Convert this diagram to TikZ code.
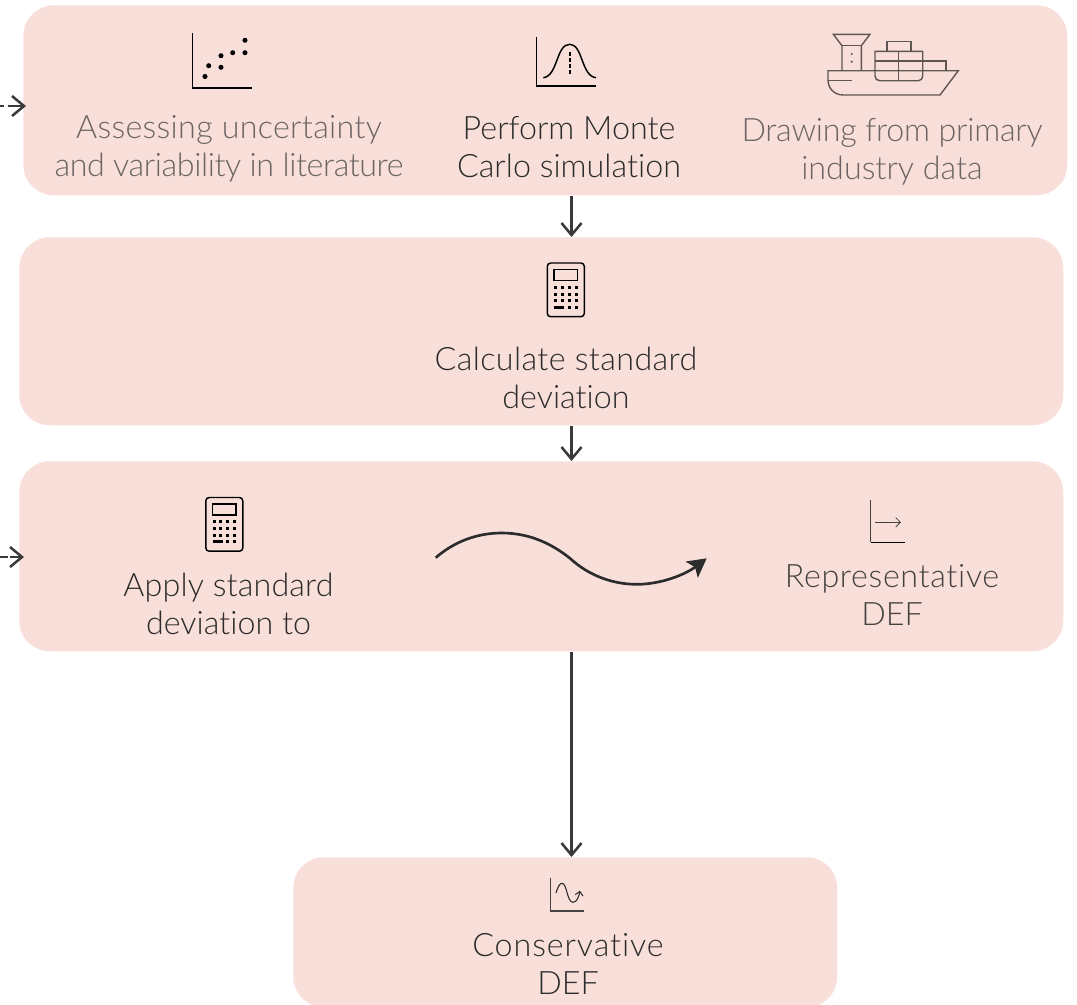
\documentclass[tikz,border=0pt]{standalone}
\usepackage{fontspec}
\setmainfont[Ligatures=NoCommon]{Lato Light}
\usetikzlibrary{arrows.meta}
\definecolor{boxfill}{HTML}{F9DFDA}
\definecolor{ink}{HTML}{2C2C2C}
\definecolor{arrowink}{HTML}{3A3A3A}
\definecolor{faded}{HTML}{6C6563}
\definecolor{midink}{HTML}{444241}
\definecolor{shipink}{HTML}{5F5654}
\newcommand{\spc}[2]{{\addfontfeature{LetterSpace=#1}#2}}
\tikzset{
  x=0.75pt,y=-0.75pt,
  stagebox/.style={fill=boxfill,rounded corners=23pt,inner sep=0pt,anchor=north west},
  flow/.style={draw=arrowink,line width=1.9pt,-{Straight Barb[length=9pt,width=15pt,line width=1.9pt]}},
  label/.style={align=center,inner sep=0pt,font=\fontsize{24.2}{28.5}\selectfont},
  icon/.style={line width=1.1pt,draw=black},
  pics/calc/.style={code={
    \draw[icon,rounded corners=2.5pt] (0,0) rectangle (37,53.7);
    \draw[icon] (6.7,6.3) rectangle (30.4,17.3);
    \foreach \kx in {8.4,15,22,29}
      \foreach \ky in {24.3,31.3,37.7}
        \fill (\kx-1.4,\ky-1.4) rectangle (\kx+1.4,\ky+1.4);
    \fill (6.7,42.7) rectangle (17,45.5);
    \foreach \kx in {22,29} \fill (\kx-1.4,42.7) rectangle (\kx+1.4,45.5);
  }}
}
\begin{document}
\begin{tikzpicture}
\clip (0,0) rectangle (1077,1004);
% stages
\node[stagebox,minimum width=1044*0.75pt,minimum height=190*0.75pt] (survey) at (23,5) {};
\node[stagebox,minimum width=1044*0.75pt,minimum height=188*0.75pt] (calcsd) at (19,237) {};
\node[stagebox,minimum width=1044*0.75pt,minimum height=190*0.75pt] (apply) at (19,461) {};
\node[stagebox,minimum width=544*0.75pt,minimum height=150*0.75pt] (cons) at (293,857) {};
% connector references
\coordinate (spine) at (571.5,0);
\coordinate (inA) at (-14,106);
\coordinate (inAend) at (26,106);
\coordinate (inB) at (-10,557);
\coordinate (inBend) at (24,557);
% connectors
\draw[flow] (survey.south -| spine) -- (calcsd.north -| spine);
\draw[flow] (calcsd.south -| spine) -- (apply.north -| spine);
\draw[flow] (apply.south -| spine) -- (cons.north -| spine);
\draw[flow,dash pattern=on 13.5pt off 3pt] (inA) -- (inAend);
\draw[flow,dash pattern=on 13.5pt off 1.5pt] (inB) -- (inBend);
% labels
\node[label,text=faded] (t1) at (229,148.5) {\spc{0.9}{Assessing uncertainty}\\\spc{-1.3}{and variability in literature}};
\node[label,text=ink] (t2) at (569,147) {Perform Monte\\Carlo simulation};
\node[label,text=faded] (t3) at (892,152) {\spc{-0.8}{Drawing from primary}\\industry data};
\node[label,text=ink] (t4) at (566,378) {\spc{1.2}{Calculate standard}\\deviation};
\node[label,text=ink] (t5) at (228.5,604) {\spc{0.4}{Apply standard}\\deviation to};
\node[label,text=midink] (t6) at (892,595) {\spc{2}{Representative}\\DEF};
\node[label,text=ink] (t7) at (568,964) {\spc{2.8}{Conservative}\\DEF};
% scatter icon
\draw[icon,line width=1.3pt] (192.5,33) -- (192.5,88.3) -- (252,88.3);
\foreach \dx/\dy in {205/76.5,208.7/65.7,221/55.7,221/67.3,232.7/52.7,245/52.7,245/40.3}
  \fill (\dx,\dy) circle (1.9pt);
% bell icon
\draw[icon] (536.3,37.3) -- (536.3,86) -- (596,86);
\draw[icon] (543.3,77.7) .. controls (558,76) and (556,44.3) .. (569.7,44.3) .. controls (583,44.3) and (581,76) .. (596,77.7);
\draw[icon,line width=1.3pt,dash pattern=on 2.7pt off 1.8pt] (569.7,52.3) -- (569.7,76);
% ship icon
\begin{scope}[line width=1.05pt,draw=shipink]
\draw (842,70.7) -- (842,45.7) -- (833.3,34.3) -- (870,34.3) -- (861.3,45.7) -- (861.3,70.7);
\draw (842,45.7) -- (861.3,45.7);
\fill[shipink] (851.7,54) circle (0.9pt) (851.7,61.7) circle (0.9pt);
\draw (828,70.7) -- (958.3,70.7) -- (940,95) -- (843.3,95) .. controls (834,95) and (828,88) .. (828,80) -- cycle;
\draw (828,80.7) -- (851.7,80.7);
\draw (875,51.3) -- (922.7,51.3) -- (922.7,76) .. controls (922.7,79) and (921,80.7) .. (918,80.7) -- (880,80.7) .. controls (877,80.7) and (875,79) .. (875,76) -- cycle;
\draw (898.7,51.3) -- (898.7,80.7);
\draw (875,61) -- (946,61) -- (946,70.7);
\draw (887,51.3) -- (887,41.7) -- (911,41.7) -- (911,51.3);
\end{scope}
% calculators
\pic at (547.3,263) {calc};
\pic at (205.8,497.5) {calc};
% wave arrow
\draw[line width=2pt,draw=ink,-{Stealth[length=14pt,width=15pt,inset=3pt]}] (435.7,557.7) .. controls (455,541) and (478,533) .. (501.7,533) .. controls (530,533) and (552,544) .. (570,558.3) .. controls (588,575) and (612,584.3) .. (636.7,584.3) .. controls (662,584.3) and (686,574) .. (706.7,558.3);
% representative icon
\draw[icon,draw=midink] (870.7,500) -- (870.7,542.3);
\draw[icon] (870.7,542.3) -- (905,542.3);
\draw[line width=0.6pt,draw=midink,-{Straight Barb[length=3.5pt,width=7pt,line width=0.6pt]}] (875.3,522.3) -- (901,522.3);
% conservative icon
\draw[icon,line width=0.9pt,draw=midink] (550.7,877.7) -- (550.7,911) -- (584,911);
\draw[line width=0.8pt,draw=ink,-{Straight Barb[length=3pt,width=6pt,line width=0.8pt]}] (556,893) .. controls (558,886) and (560,883.3) .. (562,883.3) .. controls (567,883.3) and (567,902.3) .. (573,902.3) .. controls (577,902.3) and (579,896) .. (580,890.7);
\end{tikzpicture}
\end{document}
